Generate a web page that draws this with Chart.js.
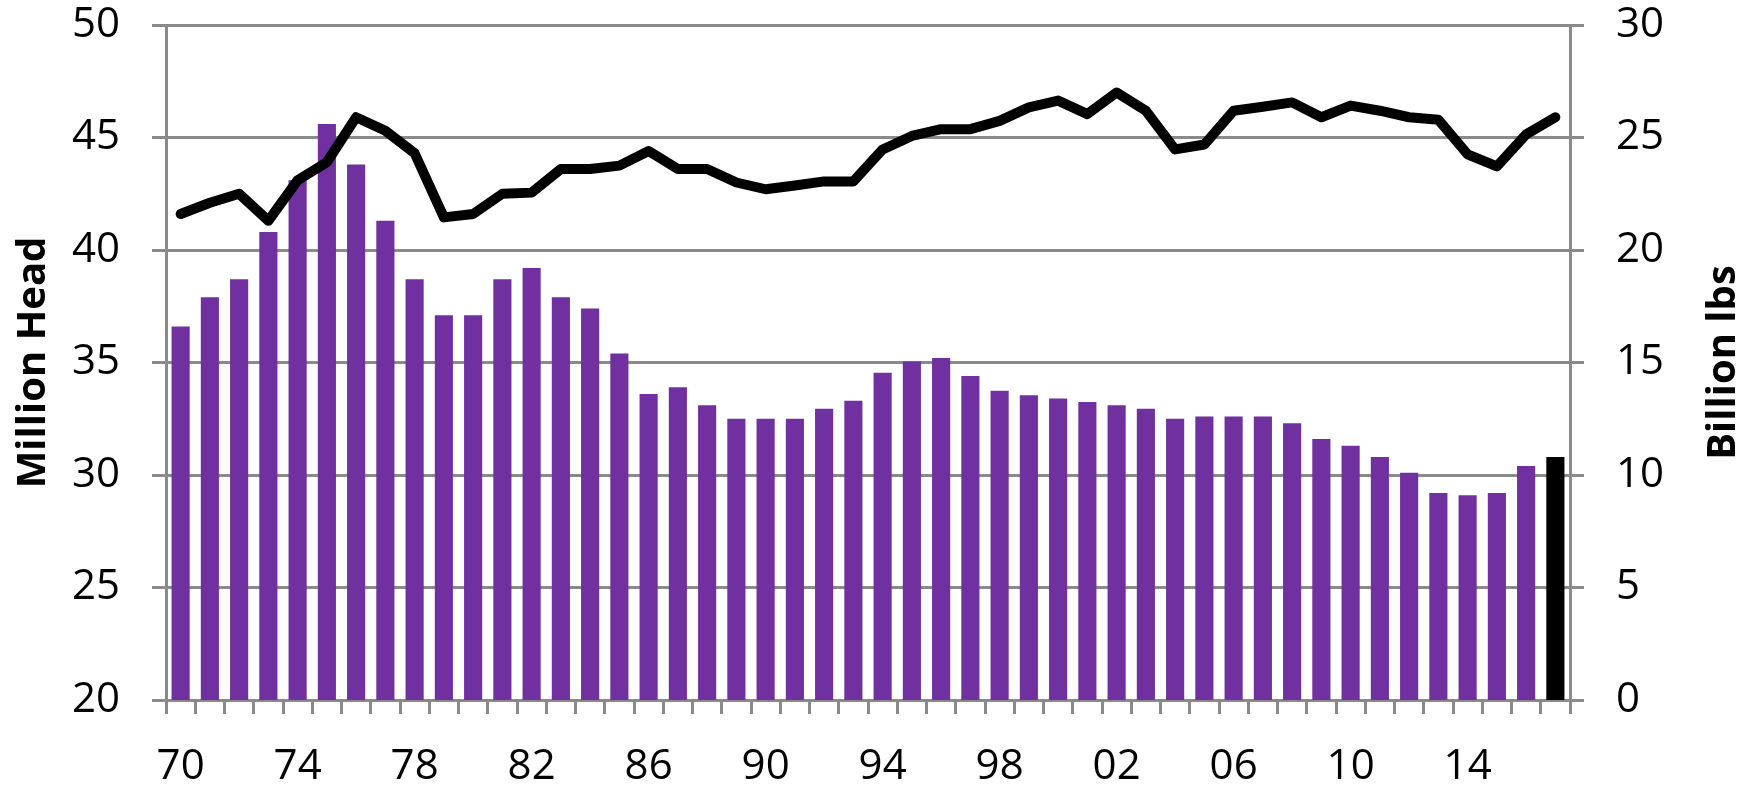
<!DOCTYPE html>
<html>
<head>
<meta charset="utf-8">
<script src="https://cdn.jsdelivr.net/npm/chart.js@4.4.1/dist/chart.umd.min.js"></script>
<style>
    html, body { margin: 0; padding: 0; background: #fff; }
    #wrap { width: 1748px; height: 786px; position: relative; }
</style>
</head>
<body>
<div id="wrap"><canvas id="cattleChart"></canvas></div>
<script>
const years = ['70', '71', '72', '73', '74', '75', '76', '77', '78', '79',
    '80', '81', '82', '83', '84', '85', '86', '87', '88', '89',
    '90', '91', '92', '93', '94', '95', '96', '97', '98', '99',
    '00', '01', '02', '03', '04', '05', '06', '07', '08', '09',
    '10', '11', '12', '13', '14', '15', '16', '17'];

// million head (left axis)
const slaughterHead = [36.6, 37.9, 38.7, 40.8, 43.1, 45.6, 43.8, 41.3, 38.7, 37.1,
    37.1, 38.7, 39.2, 37.9, 37.4, 35.4, 33.6, 33.9, 33.1, 32.5,
    32.5, 32.5, 32.95, 33.3, 34.55, 35.05, 35.2, 34.4, 33.75, 33.55,
    33.4, 33.25, 33.1, 32.95, 32.5, 32.6, 32.6, 32.6, 32.3, 31.6,
    31.3, 30.8, 30.1, 29.2, 29.1, 29.2, 30.4, 30.8];

// billion lbs (right axis)
const beefProduction = [21.6, 22.1, 22.5, 21.3, 23.1, 23.9, 25.9, 25.3, 24.3, 21.45,
    21.6, 22.5, 22.55, 23.6, 23.6, 23.75, 24.4, 23.6, 23.6, 23.0,
    22.7, 22.87, 23.05, 23.05, 24.47, 25.07, 25.37, 25.37, 25.74, 26.34,
    26.64, 26.04, 27.0, 26.19, 24.47, 24.69, 26.19, 26.37, 26.56, 25.9,
    26.42, 26.19, 25.9, 25.79, 24.25, 23.72, 25.14, 25.9];

const purple = '#7030A0';
const gridGray = '#8a8a8a';
const tickFont = { family: 'Open Sans', size: 42 };

const barColors = slaughterHead.map((v, i) => i === slaughterHead.length - 1 ? '#000000' : purple);

// axis titles read bottom-to-top on both sides
const axisTitles = {
    id: 'axisTitles',
    afterDraw(chart) {
        const c = chart.ctx;
        const mid = (chart.chartArea.top + chart.chartArea.bottom) / 2;
        c.save();
        c.font = 'bold 40px "Open Sans"';
        c.fillStyle = '#000';
        c.textAlign = 'center';
        c.textBaseline = 'alphabetic';
        [['Million Head', 45], ['Billion lbs', 1735]].forEach(([txt, x]) => {
            c.save();
            c.translate(x, mid);
            c.rotate(-Math.PI / 2);
            c.fillText(txt, 0, 0);
            c.restore();
        });
        c.restore();
    }
};

const ctx = document.getElementById('cattleChart').getContext('2d');
new Chart(ctx, {
    type: 'bar',
    data: {
        labels: years,
        datasets: [
            {
                type: 'line',
                label: 'Billion lbs',
                data: beefProduction,
                yAxisID: 'y1',
                borderColor: '#000',
                borderWidth: 10,
                borderCapStyle: 'round',
                borderJoinStyle: 'round',
                pointRadius: 0,
                tension: 0,
                order: 0
            },
            {
                type: 'bar',
                label: 'Million Head',
                data: slaughterHead,
                yAxisID: 'y',
                backgroundColor: barColors,
                barPercentage: 0.62,
                categoryPercentage: 1.0,
                order: 1
            }
        ]
    },
    options: {
        responsive: true,
        maintainAspectRatio: false,
        animation: false,
        layout: { padding: { top: 25, right: 0, left: 0, bottom: 0 } },
        plugins: {
            legend: { display: false },
            tooltip: { enabled: false }
        },
        scales: {
            x: {
                grid: {
                    offset: true,
                    drawOnChartArea: false,
                    drawTicks: true,
                    tickLength: 14,
                    color: gridGray,
                    lineWidth: 3
                },
                border: { color: gridGray, width: 3 },
                ticks: {
                    autoSkip: false,
                    maxRotation: 0,
                    minRotation: 0,
                    padding: 28,
                    color: '#000',
                    font: tickFont,
                    callback: (v, i) => i % 4 === 0 ? years[i] : ''
                },
                afterFit(s) { s.height = 86; s.paddingLeft = 0; s.paddingRight = 0; }
            },
            y: {
                position: 'left',
                min: 20,
                max: 50,
                grid: { color: gridGray, lineWidth: 3, tickLength: 14 },
                border: { color: gridGray, width: 3 },
                ticks: { stepSize: 5, padding: 32, color: '#000', font: tickFont },
                afterFit(s) { s.width = 166; s.paddingTop = 0; s.paddingBottom = 0; }
            },
            y1: {
                position: 'right',
                min: 0,
                max: 30,
                grid: { drawOnChartArea: false, color: gridGray, lineWidth: 3, tickLength: 14 },
                border: { color: gridGray, width: 3 },
                ticks: { stepSize: 5, padding: 32, color: '#000', font: tickFont },
                afterFit(s) { s.width = 178; s.paddingTop = 0; s.paddingBottom = 0; }
            }
        }
    },
    plugins: [axisTitles]
});
</script>
</body>
</html>
